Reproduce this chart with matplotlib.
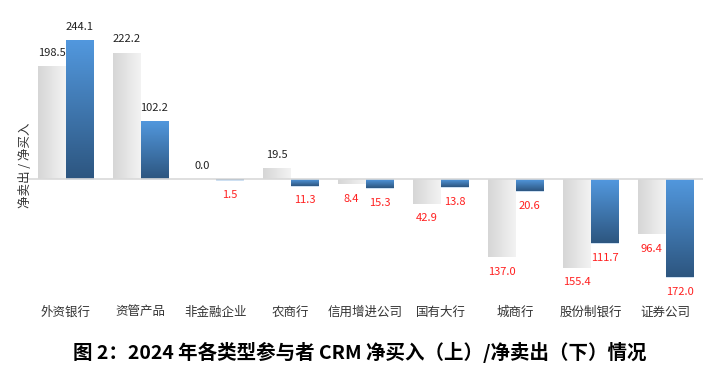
import numpy as np
import matplotlib
matplotlib.use("Agg")
import matplotlib.pyplot as plt
from matplotlib.colors import LinearSegmentedColormap

plt.rcParams['font.family'] = ['Noto Sans CJK SC', 'DejaVu Sans']

categories = ["外资银行", "资管产品", "非金融企业", "农商行", "信用增进公司",
              "国有大行", "城商行", "股份制银行", "证券公司"]
series_gray = [198.5, 222.2, 0.0, 19.5, -8.4, -42.9, -137.0, -155.4, -96.4]
series_blue = [244.1, 102.2, -1.5, -11.3, -15.3, -13.8, -20.6, -111.7, -172.0]
title = "图 2：2024 年各类型参与者 CRM 净买入（上）/净卖出（下）情况"
ylabel = "净卖出 / 净买入"

fig = plt.figure(figsize=(7.2, 3.8), dpi=100)
ax = fig.add_axes([0.039, 0.218, 0.9375, 0.729])
x = np.arange(len(categories))
w = 0.37
ax.set_xlim(-0.5, len(categories) - 0.5)
ax.set_ylim(-207, 279)

gray_cmap = LinearSegmentedColormap.from_list("g", ["#d6d6d6", "#f3f3f3"])
blue_cmap = LinearSegmentedColormap.from_list("b", ["#5298de", "#2d5680"])

bars_g = ax.bar(x - w / 2, series_gray, width=w, color="none", edgecolor="none")
bars_b = ax.bar(x + w / 2, series_blue, width=w, color="none", edgecolor="#c5daf0", linewidth=0.6)

for b in bars_g:
    x0, y0 = b.get_x(), b.get_y()
    bw, bh = b.get_width(), b.get_height()
    if bh == 0:
        continue
    grad = np.linspace(0, 1, 64).reshape(1, -1)
    ylo, yhi = min(y0, y0 + bh), max(y0, y0 + bh)
    im = ax.imshow(grad, cmap=gray_cmap, extent=[x0, x0 + bw, ylo, yhi],
                   aspect="auto", zorder=1, interpolation="bicubic")
    im.set_clip_path(b)

for b in bars_b:
    x0, y0 = b.get_x(), b.get_y()
    bw, bh = b.get_width(), b.get_height()
    ylo, yhi = min(y0, y0 + bh), max(y0, y0 + bh)
    grad = np.linspace(1, 0, 64).reshape(-1, 1)
    im = ax.imshow(grad, cmap=blue_cmap, extent=[x0, x0 + bw, ylo, yhi],
                   aspect="auto", zorder=1, interpolation="bicubic", origin="lower")
    im.set_clip_path(b)

ax.axhline(0, color="#d9d9d9", linewidth=1.2, zorder=3)

def label(bars, vals):
    for b, v in zip(bars, vals):
        cx = b.get_x() + b.get_width() / 2
        if v >= 0:
            ax.annotate(f"{abs(v):.1f}", (cx, v), xytext=(0, 6), textcoords="offset points",
                        ha="center", va="bottom", fontsize=8, color="#222222")
        else:
            ax.annotate(f"{abs(v):.1f}", (cx, v), xytext=(0, -7), textcoords="offset points",
                        ha="center", va="top", fontsize=8, color="#ff2020")

label(bars_g, series_gray)
label(bars_b, series_blue)

ax.set_xticks(x)
ax.set_xticklabels(categories, fontsize=9, color="#333333")
ax.tick_params(axis="x", length=0, pad=6)
ax.set_yticks([])
for s in ax.spines.values():
    s.set_visible(False)

fig.text(0.036, 0.565, ylabel, rotation=90, ha="center", va="center", fontsize=9, color="#333333")
fig.text(0.5, 0.073, title, ha="center", va="center", fontsize=14, fontweight="bold", color="#000000")

fig.savefig("out.png", dpi=100)
